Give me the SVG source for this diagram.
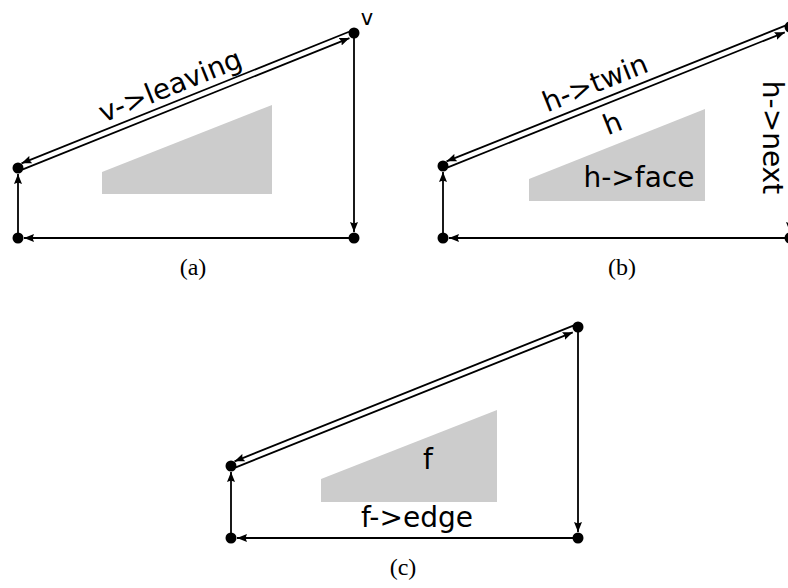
<svg xmlns="http://www.w3.org/2000/svg" width="788" height="588" viewBox="0 0 788 588">
<style>
.e{stroke:#000;stroke-width:1.8;fill:none;marker-end:url(#ah)}
.d{fill:#000}
.g{fill:#cccccc}
.t{font-family:"DejaVu Sans",sans-serif;font-size:28px;fill:#000}
.c{font-family:"Liberation Serif",serif;font-size:24px;fill:#000;text-anchor:middle}
</style>
<defs>
<marker id="ah" viewBox="0 0 10 8" refX="10" refY="4" markerWidth="10" markerHeight="8" markerUnits="userSpaceOnUse" orient="auto">
<path d="M0,0 L10,4 L0,8 L1.5,4 Z" fill="#000"/>
</marker>
</defs>
<rect width="788" height="588" fill="#fff"/>

<!-- faces -->
<g id="face-a"><polygon class="g" points="102,172 272,105 272,194 102,194"/></g>
<g id="face-b"><polygon class="g" points="529,179 705,109 705,201 529,201"/></g>
<g id="face-c"><polygon class="g" points="321,479 497,410 497,502 321,502"/></g>

<g id="connectors">
<!-- (a) -->
<g transform="translate(18,168) rotate(-21.89)">
<line class="e" x1="358" y1="-3" x2="5" y2="-3"/>
<line class="e" x1="4" y1="3" x2="356" y2="3"/>
</g>
<line class="e" x1="354" y1="33" x2="354" y2="232"/>
<line class="e" x1="354" y1="238" x2="24" y2="238"/>
<line class="e" x1="18" y1="238" x2="18" y2="174"/>
<!-- (b) -->
<g transform="translate(443,166) rotate(-21.83)">
<line class="e" x1="370" y1="-3" x2="5" y2="-3"/>
<line class="e" x1="4" y1="3" x2="367" y2="3"/>
</g>
<line class="e" x1="790" y1="27" x2="790" y2="232"/>
<line class="e" x1="790" y1="238" x2="449" y2="238"/>
<line class="e" x1="443" y1="238" x2="443" y2="172"/>
<!-- (c) -->
<g transform="translate(231,466) rotate(-21.83)">
<line class="e" x1="370" y1="-3" x2="5" y2="-3"/>
<line class="e" x1="4" y1="3" x2="367" y2="3"/>
</g>
<line class="e" x1="578" y1="327" x2="578" y2="532"/>
<line class="e" x1="578" y1="538" x2="237" y2="538"/>
<line class="e" x1="231" y1="538" x2="231" y2="472"/>
</g>

<!-- vertices -->
<g id="v-a1"><circle class="d" cx="18" cy="168" r="5.5"/></g>
<g id="v-a2"><circle class="d" cx="354" cy="33" r="5.5"/></g>
<g id="v-a3"><circle class="d" cx="18" cy="238" r="5.5"/></g>
<g id="v-a4"><circle class="d" cx="354" cy="238" r="5.5"/></g>
<g id="v-b1"><circle class="d" cx="443" cy="166" r="5.5"/></g>
<g id="v-b2"><circle class="d" cx="790" cy="27" r="5.5"/></g>
<g id="v-b3"><circle class="d" cx="443" cy="238" r="5.5"/></g>
<g id="v-b4"><circle class="d" cx="790" cy="238" r="5.5"/></g>
<g id="v-c1"><circle class="d" cx="231" cy="466" r="5.5"/></g>
<g id="v-c2"><circle class="d" cx="578" cy="327" r="5.5"/></g>
<g id="v-c3"><circle class="d" cx="231" cy="538" r="5.5"/></g>
<g id="v-c4"><circle class="d" cx="578" cy="538" r="5.5"/></g>

<!-- labels -->
<g id="labels">
<text class="t" x="367" y="25" text-anchor="middle" style="font-size:21px">v</text>
<text class="t" transform="translate(18,168) rotate(-21.89)" x="172" y="-10" text-anchor="middle">v-&gt;leaving</text>
<text class="t" transform="translate(443,166) rotate(-21.83)" x="172" y="-11" text-anchor="middle">h-&gt;twin</text>
<text class="t" transform="translate(443,166) rotate(-21.83)" x="173" y="33" text-anchor="middle">h</text>
<text class="t" x="639" y="187" text-anchor="middle">h-&gt;face</text>
<text class="t" transform="translate(763,137.5) rotate(90)" text-anchor="middle">h-&gt;next</text>
<text class="t" x="428" y="469" text-anchor="middle">f</text>
<text class="t" x="417" y="527" text-anchor="middle">f-&gt;edge</text>
<text class="c" x="193" y="275">(a)</text>
<text class="c" x="622" y="275">(b)</text>
<text class="c" x="403" y="575">(c)</text>
</g>
</svg>
